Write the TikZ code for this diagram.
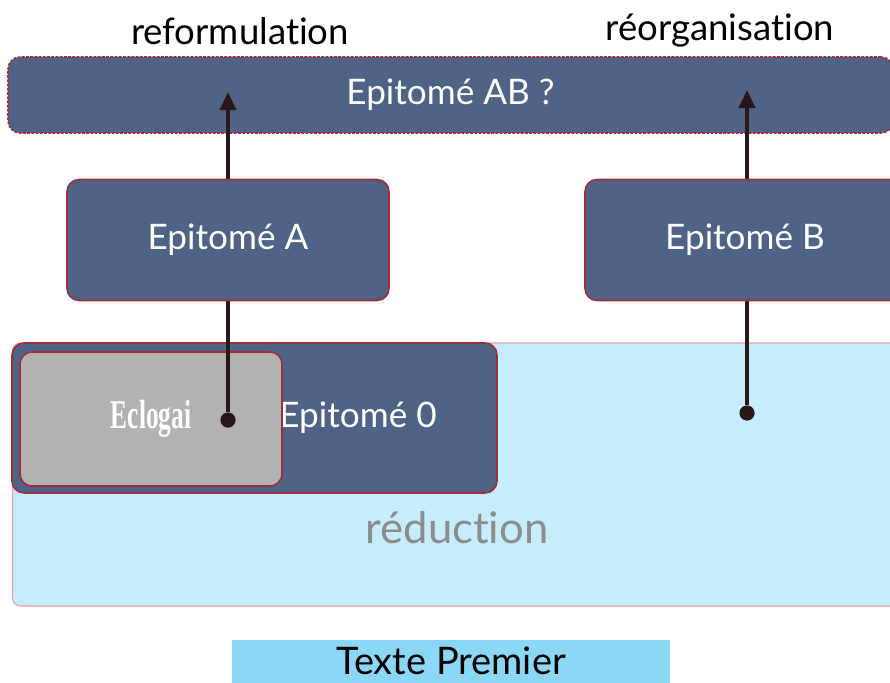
\documentclass[tikz,border=0pt]{standalone}
\usepackage{fontspec}
\setmainfont{Lato}[Ligatures=NoCommon]
\newfontfamily\eclofont{Liberation Serif}
\usetikzlibrary{arrows.meta}
\definecolor{slate}{RGB}{78,99,133}
\definecolor{boxred}{RGB}{160,45,60}
\definecolor{reducfill}{RGB}{197,237,251}
\definecolor{reducline}{RGB}{232,160,165}
\definecolor{eclofill}{RGB}{178,178,178}
\definecolor{premfill}{RGB}{138,216,245}
\definecolor{inkdark}{RGB}{40,24,24}
\tikzset{
  epibox/.style={draw=boxred, fill=slate, line width=1.1pt, rounded corners=0.3cm,
    text=white, font=\fontsize{25}{30}\selectfont},
  epitxt/.style={text=white, font=\fontsize{25}{30}\selectfont},
  ecobox/.style={draw=boxred, fill=eclofill, line width=1.1pt, rounded corners=0.3cm,
    text=white, font=\eclofont\bfseries\fontsize{29}{32}\selectfont},
  toplabel/.style={text=black, font=\fontsize{26}{30}\selectfont},
  dot/.style={circle, fill=inkdark, inner sep=0pt, minimum size=0.38cm},
  arrowline/.style={draw=inkdark, line width=2.4pt, -{Triangle[length=0.45cm, width=0.4cm]}}
}
\begin{document}
\begin{tikzpicture}[x=0.025cm, y=-0.025cm]
  \useasboundingbox (0,0) rectangle (890,683);
  \clip (0,0) rectangle (890,683);
  % top labels
  \node[toplabel] (reform) at (240,31) {reformulation};
  \node[toplabel] (reorg) at (720,31) {réorganisation};
  % epitome AB
  \node[epibox, draw=boxred, dash pattern=on 2pt off 1pt, minimum width=885*0.025cm,
    minimum height=76*0.025cm] (epiAB) at (450.5,95) {Epitomé AB ?};
  % reduction area
  \node[draw=reducline, fill=reducfill, line width=0.8pt, rounded corners=0.2cm,
    minimum width=885*0.025cm, minimum height=263*0.025cm] (reduc) at (455,474.5) {};
  \node[text=gray!90, font=\fontsize{31}{36}\selectfont] (reductxt) at (457,528) {réduction};
  % epitome 0 and eclogai
  \node[epibox, minimum width=485*0.025cm, minimum height=150*0.025cm] (epi0) at (254.5,418) {};
  \node[epitxt] (epi0txt) at (358,418) {Epitomé 0};
  \node[ecobox, minimum width=262*0.025cm, minimum height=134*0.025cm] (eclogai) at (151,419)
    {\scalebox{0.62}[1]{Eclogai}};
  % texte premier
  \node[fill=premfill, minimum width=438*0.025cm, minimum height=50*0.025cm,
    font=\fontsize{27}{32}\selectfont] (premier) at (451,665) {};
  \node[font=\fontsize{27}{32}\selectfont] (premtxt) at (451,661) {Texte Premier};
  % the lines
  \node[dot] (dotA) at (228,420) {};
  \node[dot] (dotB) at (747,413) {};
  \coordinate (tipA) at (228,92);
  \coordinate (tipB) at (747,90);
  \draw[arrowline] (dotA) -- (tipA);
  \draw[arrowline] (dotB) -- (tipB);
  % epitome A and B
  \node[epibox, minimum width=322*0.025cm, minimum height=121*0.025cm] (epiA) at (228,240) {Epitomé A};
  \node[epibox, minimum width=320*0.025cm, minimum height=121*0.025cm] (epiB) at (745,240) {Epitomé B};
\end{tikzpicture}
\end{document}
